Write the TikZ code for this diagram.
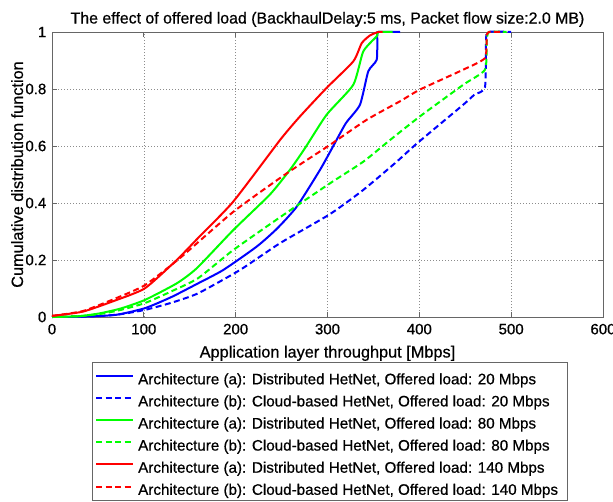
\documentclass[tikz,border=0pt]{standalone}
\usepackage{fontspec}
\setmainfont{Liberation Sans}[FakeBold=0.6]
\begin{document}
\begin{tikzpicture}[
    x=1pt, y=-1pt,
    font=\fontsize{15}{18}\selectfont,
    frame/.style={draw=black!60, line width=0.9pt},
    gridline/.style={draw=black!45, line width=0.6pt, dash pattern=on 1pt off 2pt},
    tickmark/.style={draw=black!60, line width=0.9pt},
    distr/.style={line width=2pt, line join=round},
    cloud/.style={line width=2pt, line join=round, dash pattern=on 6pt off 3.5pt},
    ticklabel/.style={inner sep=0pt},
    axislabel/.style={inner sep=0pt, font=\fontsize{16.3}{19}\selectfont},
    entry/.style={anchor=base west, inner sep=0pt, font=\fontsize{15.2}{18}\selectfont}
]
\useasboundingbox (0,0) rectangle (613,501);

\node[axislabel, anchor=base, font=\fontsize{15.9}{19}\selectfont] (title) at (327.5,23.5)
    {The effect of offered load (BackhaulDelay:5 ms, Packet flow size:2.0 MB)};

% axes in data units: throughput [Mbps] to the right, CDF upwards
\begin{scope}[shift={(52,317)}, x=0.9183pt, y=285pt]
  \foreach \t in {100,200,...,500}
    \draw[gridline] (\t,0) -- (\t,1);
  \foreach \c in {0.2,0.4,0.6,0.8}
    \draw[gridline] (0,\c) -- (600,\c);
  \draw[frame] (0,0) rectangle (600,1);
  \foreach \t in {100,200,...,500} {
    \draw[tickmark] (\t,0) -- ++(0pt,5pt);
    \draw[tickmark] (\t,1) -- ++(0pt,-5pt);
  }
  \foreach \c in {0.2,0.4,0.6,0.8} {
    \draw[tickmark] (0,\c) -- ++(5pt,0pt);
    \draw[tickmark] (600,\c) -- ++(-5pt,0pt);
  }
  \foreach \t in {0,100,...,600}
    \node[ticklabel, anchor=base] (xtick\t) at ([yshift=-17.3pt]\t,0) {\t};
  \foreach \c/\l [count=\i] in {0/0,0.2/0.2,0.4/0.4,0.6/0.6,0.8/0.8,1/1}
    \node[ticklabel, anchor=east] (ytick\i) at ([xshift=-5.5pt]0,\c) {\l};
  \node[axislabel, anchor=base] (xlabel) at ([yshift=-40.5pt]300,0)
    {Application layer throughput [Mbps]};
  \node[axislabel, anchor=base, rotate=90] (ylabel) at ([xshift=-29pt]0,0.5)
    {Cumulative distribution function};

  % offered load 20 Mbps
  \draw[distr, blue] plot[smooth, tension=0.35] coordinates {
    (0,0) (40,0.002) (70.5,0.008) (101.3,0.031) (130,0.07) (159,0.118)
    (186.5,0.165) (222.9,0.247) (245,0.31) (266.5,0.387) (291.8,0.516)
    (306.3,0.6) (320,0.68) (335.4,0.745) (344.4,0.862) (353.6,0.903)
    (354.2,0.991) (355,1) (379,1)};
  \draw[cloud, blue] plot[smooth, tension=0.35] coordinates {
    (0,0) (50,0.003) (75,0.01) (101.3,0.025) (130,0.05) (159,0.083)
    (204.7,0.165) (248.3,0.259) (302.7,0.361) (339,0.446) (375.4,0.545)
    (394.2,0.6) (420,0.67) (447.9,0.745) (460,0.78) (471.5,0.806)
    (472.6,0.967) (475.1,1) (500,1)};
  % offered load 80 Mbps
  \draw[distr, green] plot[smooth, tension=0.35] coordinates {
    (0,0) (30,0.003) (52.3,0.013) (75,0.03) (101.3,0.06) (135.8,0.118)
    (157.6,0.171) (197.4,0.305) (237.4,0.43) (259,0.516) (275,0.59)
    (299.1,0.71) (328.1,0.815) (339,0.932) (353.6,0.985) (355.3,1) (371,1)};
  \draw[cloud, green] plot[smooth, tension=0.35] coordinates {
    (0,0) (30,0.003) (55,0.012) (75,0.025) (101.3,0.049) (130,0.09)
    (159,0.136) (197.4,0.235) (251.9,0.358) (302.7,0.469) (339,0.545)
    (368.1,0.621) (400.7,0.704) (447.9,0.815) (471.5,0.868) (473.4,0.967)
    (475.9,1) (495,1)};
  % offered load 140 Mbps
  \draw[distr, red] plot[smooth, tension=0.35] coordinates {
    (0,0.004) (33.8,0.019) (70.5,0.06) (101.3,0.101) (135.8,0.2)
    (159,0.277) (197.4,0.405) (248.3,0.621) (270.1,0.704) (299.1,0.804)
    (328.1,0.897) (337.3,0.961) (346.3,0.988) (355.3,1) (360,1)};
  \draw[cloud, red] plot[smooth, tension=0.35] coordinates {
    (0,0.004) (33.8,0.021) (70.5,0.067) (101.3,0.112) (139.4,0.207)
    (197.4,0.369) (255.6,0.504) (302.7,0.604) (342.7,0.692) (379,0.757)
    (400.7,0.798) (447.9,0.868) (471.5,0.909) (473.4,0.991) (476.9,1)
    (488,1)};
\end{scope}

% legend
\draw[frame, fill=white] (92.5,362.5) rectangle (567,500);
\foreach \col/\sty/\txt [count=\i] in {
    blue/distr/{Architecture (a): Distributed HetNet, Offered load: 20 Mbps},
    blue/cloud/{Architecture (b): Cloud-based HetNet, Offered load: 20 Mbps},
    green/distr/{Architecture (a): Distributed HetNet, Offered load: 80 Mbps},
    green/cloud/{Architecture (b): Cloud-based HetNet, Offered load: 80 Mbps},
    red/distr/{Architecture (a): Distributed HetNet, Offered load: 140 Mbps},
    red/cloud/{Architecture (b): Cloud-based HetNet, Offered load: 140 Mbps}} {
  \draw[\sty, \col] (96,{376+22.1*(\i-1)}) -- (133,{376+22.1*(\i-1)});
  \node[entry] (leg\i) at (138,{384.3+22.1*(\i-1)}) {\txt};
}
\end{tikzpicture}
\end{document}
